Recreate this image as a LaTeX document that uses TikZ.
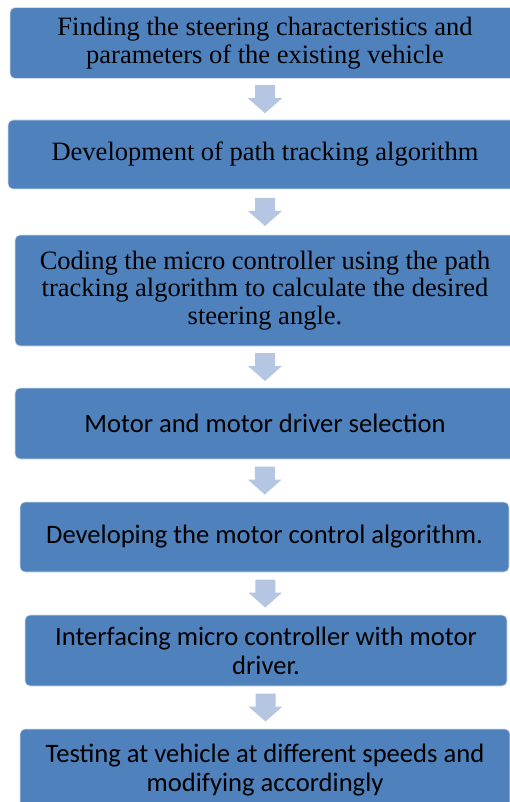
\documentclass[tikz,border=0pt]{standalone}
\usepackage{fontspec}
\setmainfont{Liberation Serif}
\newfontfamily\bodysans{Carlito}
\usetikzlibrary{calc}
\definecolor{stepfill}{HTML}{4F81BD}
\definecolor{arrowfill}{HTML}{B4C6E2}
\tikzset{
  stepbox/.style={fill=stepfill, draw=white!75!stepfill, line width=0.6pt,
    rounded corners=5pt, inner sep=0pt, text=black, align=center},
  serifstep/.style={stepbox, font=\fontsize{26.5}{27.5}\selectfont},
  sansstep/.style={stepbox, font=\bodysans\fontsize{26.6}{29}\selectfont},
  flowarrow/.style={fill=arrowfill, draw=none},
}
% block arrow centred between two stacked boxes
\newcommand{\blockarrow}[2]{%
  \coordinate (m) at ($(#1.south)!0.5!(#2.north)$);
  \fill[flowarrow]
    ($(m)+(-10pt,14pt)$) -- ($(m)+(10pt,14pt)$) -- ($(m)+(10pt,1pt)$) --
    ($(m)+(17pt,1pt)$) -- ($(m)+(0pt,-14pt)$) -- ($(m)+(-17pt,1pt)$) --
    ($(m)+(-10pt,1pt)$) -- cycle;}
\begin{document}
\begin{tikzpicture}[x=1pt,y=-1pt]
\useasboundingbox (0,0) rectangle (510,802);
\clip (0,0) rectangle (510,802);
\node[serifstep, minimum width=510pt, minimum height=71pt] (s1) at (265,43)
  {Finding the steering characteristics and\\parameters of the existing vehicle};
\node[serifstep, minimum width=514pt, minimum height=69pt] (s2) at (265,154.5)
  {Development of path tracking algorithm};
\node[serifstep, minimum width=500pt, minimum height=111pt] (s3) at (265,290.5)
  {Coding the micro controller using the path\\tracking algorithm to calculate the desired\\steering angle.};
\node[sansstep, minimum width=500pt, minimum height=71pt] (s4) at (265,423.5)
  {Motor and motor driver selection};
\node[sansstep, minimum width=489pt, minimum height=70pt] (s5) at (264.5,537)
  {Developing the motor control algorithm.};
\node[sansstep, minimum width=482pt, minimum height=71pt] (s6) at (266,650.5)
  {Interfacing micro controller with motor\\driver.};
\node[sansstep, minimum width=490pt, minimum height=82pt] (s7) at (265,770)
  {Testing at vehicle at different speeds and\\modifying accordingly};
\blockarrow{s1}{s2}
\blockarrow{s2}{s3}
\blockarrow{s3}{s4}
\blockarrow{s4}{s5}
\blockarrow{s5}{s6}
\blockarrow{s6}{s7}
\end{tikzpicture}
\end{document}
